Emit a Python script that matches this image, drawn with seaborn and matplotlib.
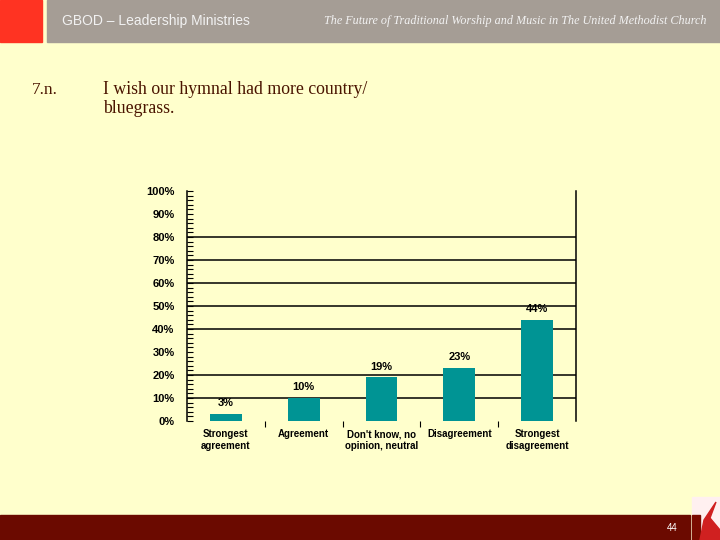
import numpy as np
import pandas as pd
import seaborn as sns
import matplotlib
matplotlib.use('Agg')
import matplotlib.pyplot as plt
from matplotlib.patches import Rectangle, Polygon
from matplotlib.ticker import MultipleLocator

# data
categories = ['Strongest\nagreement', 'Agreement', "Don't know, no\nopinion, neutral",
              'Disagreement', 'Strongest\ndisagreement']
values = [3, 10, 19, 23, 44]
bar_labels = ['3%', '10%', '19%', '23%', '44%']
y_ticks = [0, 10, 20, 30, 40, 50, 60, 70, 80, 90, 100]
grid_levels = [10, 20, 40, 50, 60, 70, 80]  # lines that are drawn on the slide

bg = '#FFFFCC'
teal = '#009494'
brown = '#4A1400'

df = pd.DataFrame({'cat': categories, 'val': values})

fig = plt.figure(figsize=(7.2, 5.4), dpi=100)
fig.patch.set_facecolor(bg)

# header band
fig.patches.append(Rectangle((0, 1 - 42/540), 42/720, 42/540, transform=fig.transFigure,
                             color='#FF3322', zorder=0))
fig.patches.append(Rectangle((47/720, 1 - 42/540), 1 - 47/720, 42/540, transform=fig.transFigure,
                             color='#A59D95', zorder=0))
fig.text(62/720, 1 - 21/540, 'GBOD \u2013 Leadership Ministries', color='#F2F2F2',
         fontsize=10, family='Liberation Sans', va='center', ha='left')
fig.text(706/720, 1 - 21/540,
         'The Future of Traditional Worship and Music in The United Methodist Church',
         color='#F2F2F2', fontsize=8.7, family='Liberation Serif', style='italic',
         va='center', ha='right')

# footer band
fig.patches.append(Rectangle((0, 0), 690/720, 25/540, transform=fig.transFigure,
                             color='#6B0A00', zorder=0))
fig.text(672/720, 12/540, '44', color='white', fontsize=7, family='Liberation Sans',
         va='center', ha='center')
fig.patches.append(Rectangle((692/720, 0), 28/720, 43/540, transform=fig.transFigure,
                             color='#FFF0F0', zorder=0))
fig.patches.append(Rectangle((692/720, 0), 8/720, 25/540, transform=fig.transFigure,
                             color='#7A0A00', zorder=1))
fig.patches.append(Polygon([(700/720, 0), (704/720, 20/540), (716/720, 38/540),
                            (710/720, 22/540), (720/720, 10/540), (720/720, 0)],
                           transform=fig.transFigure, color='#D02020', zorder=2))

# title
fig.text(32/720, 1 - 90/540, '7.n.', color=brown, fontsize=12.5,
         family='Liberation Serif', va='center', ha='left')
fig.text(103/720, 1 - 81/540, 'I wish our hymnal had more country/\nbluegrass.',
         color=brown, fontsize=12.8, family='Liberation Serif', va='top', ha='left',
         linespacing=1.15)

ax = fig.add_axes([187/720, 119/540, 389/720, 230/540])
ax.set_facecolor(bg)
sns.barplot(data=df, x='cat', y='val', color=teal, width=0.41, saturation=1,
            ax=ax, zorder=3)
for y in grid_levels:
    ax.axhline(y, color='black', lw=1.1, zorder=1)

ax.set_ylim(0, 100)
ax.set_xlim(-0.5, len(categories) - 0.5)
ax.set_yticks(y_ticks)
ax.set_yticklabels([f'{t}%' for t in y_ticks], fontsize=8, fontweight='bold',
                   family='Liberation Sans')
ax.yaxis.set_minor_locator(MultipleLocator(2))
ax.tick_params(axis='y', which='both', direction='in', length=4, width=0.8, pad=9)
ax.set_xticks(np.arange(len(categories)))
ax.set_xticklabels(categories, fontsize=7, fontweight='bold', family='Liberation Sans',
                   linespacing=1.15)
ax.tick_params(axis='x', which='major', length=0, pad=6)
ax.set_xticks(np.arange(len(categories) - 1) + 0.5, minor=True)
ax.tick_params(axis='x', which='minor', direction='out', length=4, width=0.8)
ax.set_xlabel('')
ax.set_ylabel('')

for s in ['top', 'bottom']:
    ax.spines[s].set_visible(False)
for s in ['left', 'right']:
    ax.spines[s].set_linewidth(1.1)

for i, (v, lab) in enumerate(zip(values, bar_labels)):
    ax.text(i, v + 2.5, lab, ha='center', va='bottom', fontsize=8, fontweight='bold',
            family='Liberation Sans')

fig.savefig('out.png', dpi=100, facecolor=bg)
